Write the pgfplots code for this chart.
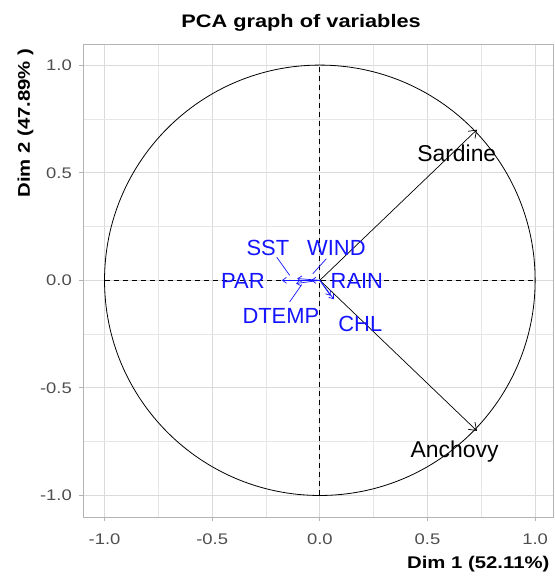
\documentclass[border=0pt]{standalone}
\usepackage{pgfplots}
\pgfplotsset{compat=1.18}
\usepackage{fontspec}
\setmainfont[FakeStretch=1.2]{Liberation Sans}
\newfontfamily\labfont{Liberation Sans}
\usetikzlibrary{arrows.meta}
\definecolor{gridmaj}{RGB}{218,218,218}
\definecolor{gridmin}{RGB}{230,230,230}
\definecolor{border}{RGB}{180,180,180}
\definecolor{ticktext}{RGB}{77,77,77}
\definecolor{labblue}{RGB}{20,20,255}
\begin{document}
\begin{tikzpicture}
\begin{axis}[
  scale only axis, width=470bp, height=473bp,
  xmin=-1.10, xmax=1.083, ymin=-1.10, ymax=1.098,
  clip=false,
  axis line style={border, line width=0.8bp},
  xtick={-1,-0.5,0,0.5,1}, xticklabels={-1.0,-0.5,0.0,0.5,1.0},
  ytick={-1,-0.5,0,0.5,1}, yticklabels={-1.0,-0.5,0.0,0.5,1.0},
  minor xtick={-0.75,-0.25,0.25,0.75},
  minor ytick={-0.75,-0.25,0.25,0.75},
  grid=both,
  major grid style={gridmaj, line width=1bp},
  minor grid style={gridmin, line width=0.7bp},
  tick align=outside, tick pos=left,
  major tick length=4bp, minor tick length=0bp,
  tick style={border, line width=0.8bp},
  xticklabel style={font=\fontsize{15.4}{18}\selectfont, text=ticktext, anchor=base, inner sep=0pt, yshift=-23bp},
  yticklabel style={font=\fontsize{15.4}{18}\selectfont, text=ticktext, anchor=base east, inner sep=0pt, xshift=-7bp, yshift=-5.5bp},
]
% circle
\draw[black, line width=0.8bp] (axis cs:0,0) ellipse [x radius=1, y radius=1];
% dashed axes
\addplot[black, dash pattern=on 5bp off 4bp, line width=0.8bp] coordinates {(-1,0) (1,0)};
\addplot[black, dash pattern=on 5bp off 4bp, line width=0.8bp] coordinates {(0,-1) (0,1)};
% variable arrows
\addplot[black, line width=0.7bp, -{Straight Barb[length=7bp,width=10bp]}] coordinates {(0,0) (0.73,0.70)};
\addplot[black, line width=0.7bp, -{Straight Barb[length=7bp,width=10bp]}] coordinates {(0,0) (0.73,-0.70)};
% small blue arrows
\addplot[labblue, line width=0.7bp, -{Straight Barb[length=4bp,width=6bp]}] coordinates {(0,0) (-0.176,0.0)};
\addplot[labblue, line width=0.7bp, -{Straight Barb[length=4bp,width=6bp]}] coordinates {(0,0) (-0.105,0.008)};
\addplot[labblue, line width=0.7bp, -{Straight Barb[length=4bp,width=6bp]}] coordinates {(0,0) (-0.11,-0.015)};
\addplot[labblue, line width=0.7bp, -{Straight Barb[length=4bp,width=6bp]}] coordinates {(0,0) (-0.04,0.0)};
\addplot[labblue, line width=0.7bp, -{Straight Barb[length=4bp,width=6bp]}] coordinates {(0,0) (0.05,-0.072)};
\addplot[labblue, line width=0.7bp, -{Straight Barb[length=4bp,width=6bp]}] coordinates {(0,0) (0.065,-0.088)};
% label segments
\addplot[labblue, line width=0.7bp] coordinates {(-0.20,0.107) (-0.14,0.023)};
\addplot[labblue, line width=0.7bp] coordinates {(0.03,0.10) (-0.033,0.03)};
\addplot[labblue, line width=0.7bp] coordinates {(-0.14,-0.10) (-0.084,-0.02)};
% labels
\node[font=\labfont\fontsize{23}{26}\selectfont, text=black] at (axis cs:0.636,0.59) {Sardine};
\node[font=\labfont\fontsize{23}{26}\selectfont, text=black] at (axis cs:0.626,-0.795) {Anchovy};
\node[font=\labfont\fontsize{22}{26}\selectfont, text=labblue] at (axis cs:-0.241,0.150) {SST};
\node[font=\labfont\fontsize{22}{26}\selectfont, text=labblue] at (axis cs:0.077,0.150) {WIND};
\node[font=\labfont\fontsize{22}{26}\selectfont, text=labblue] at (axis cs:-0.357,-0.005) {PAR};
\node[font=\labfont\fontsize{22}{26}\selectfont, text=labblue] at (axis cs:0.172,-0.005) {RAIN};
\node[font=\labfont\fontsize{22}{26}\selectfont, text=labblue] at (axis cs:-0.181,-0.168) {DTEMP};
\node[font=\labfont\fontsize{22}{26}\selectfont, text=labblue] at (axis cs:0.188,-0.205) {CHL};
% titles
\node[yshift=16bp, font=\bfseries\fontsize{18.2}{22}\selectfont, anchor=base] at (rel axis cs:0.464,1) {PCA graph of variables};
\node[yshift=-51bp, font=\bfseries\fontsize{17}{20}\selectfont, anchor=base east] at (rel axis cs:1,0) {Dim 1 (52.11\%)};
\node[xshift=-53bp, yshift=-1bp, font=\bfseries\fontsize{17}{20}\selectfont, anchor=base east, rotate=90] at (rel axis cs:0,1) {Dim 2 (47.89\% )};
\end{axis}
\pgfresetboundingbox
\path ([shift={(-83bp,-59bp)}]current axis.south west) rectangle ([shift={(2bp,44bp)}]current axis.north east);
\end{tikzpicture}
\end{document}
